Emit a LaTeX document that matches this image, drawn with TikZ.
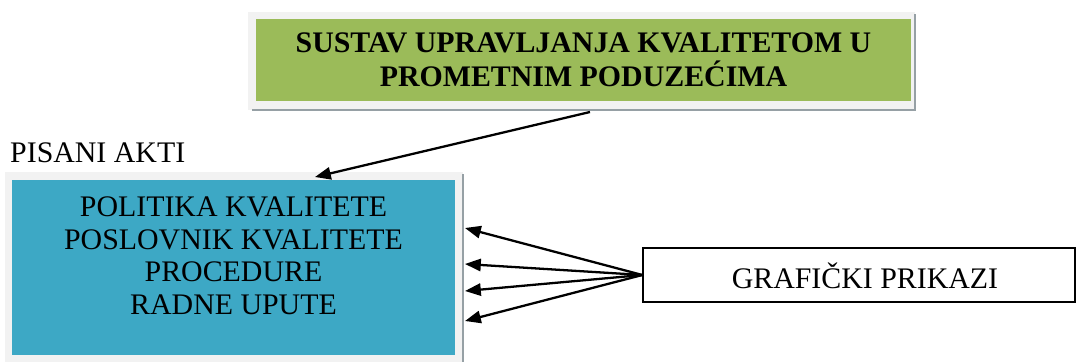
\documentclass[tikz,border=0pt]{standalone}
\usepackage{fontspec}
\setmainfont{Liberation Serif}
\usetikzlibrary{arrows.meta,positioning,calc}
\definecolor{olivegreen}{RGB}{155,187,89}
\definecolor{aktiblue}{RGB}{61,168,197}
\definecolor{framegray}{RGB}{242,242,242}
\definecolor{shadowgray}{RGB}{150,160,165}

\tikzset{
  box/.style={draw=none,minimum width=#1,inner sep=0pt},
  strelica/.style={-{Triangle[length=9pt,width=7pt]},line width=1.3pt}
}

\begin{document}
\begin{tikzpicture}[x=0.02cm,y=-0.02cm]
  \useasboundingbox (0,0) rectangle (1080,362);
  % okvir sustava
  \fill[framegray] (248,12) rectangle (915,110);
  \draw[shadowgray,line width=1.5pt] (915,14) -- (915,110) -- (252,110);
  \node[box=13.1cm,fill=olivegreen,minimum height=1.64cm,align=center,font=\bfseries\fontsize{17}{19.3}\selectfont]
    (sustav) at (583.5,60) {SUSTAV UPRAVLJANJA KVALITETOM U\\PROMETNIM PODUZEĆIMA};
  % pisani akti
  \node[font=\fontsize{17}{19}\selectfont,anchor=west] (pisani) at (4,153) {PISANI AKTI};
  \fill[framegray] (5,172) rectangle (463,362);
  \draw[shadowgray,line width=1pt] (463,174) -- (463,362);
  \node[box=8.86cm,fill=aktiblue,minimum height=3.5cm] (akti) at (233.5,267.5) {};
  \node[align=center,font=\fontsize{17}{18.5}\selectfont] (aktitekst) at (233.5,256)
    {POLITIKA KVALITETE\\POSLOVNIK KVALITETE\\PROCEDURE\\RADNE UPUTE};
  % graficki prikazi
  \node[draw,line width=0.8pt,minimum width=8.64cm,minimum height=1.08cm,inner sep=0pt] (prikazi) at (859,275) {};
  \node[font=\fontsize{17}{19}\selectfont] (prikazitekst) at (865,276) {GRAFIČKI PRIKAZI};
  % strelice
  \coordinate (s0) at (590,112);
  \coordinate (a0) at (315,177);
  \draw[strelica] (s0) -- (a0);
  \foreach \i/\y in {1/228,2/264,3/291,4/321}
    \coordinate (a\i) at (465,\y);
  \foreach \i in {1,...,4}
    \draw[strelica] (prikazi.west) -- (a\i);
\end{tikzpicture}
\end{document}
